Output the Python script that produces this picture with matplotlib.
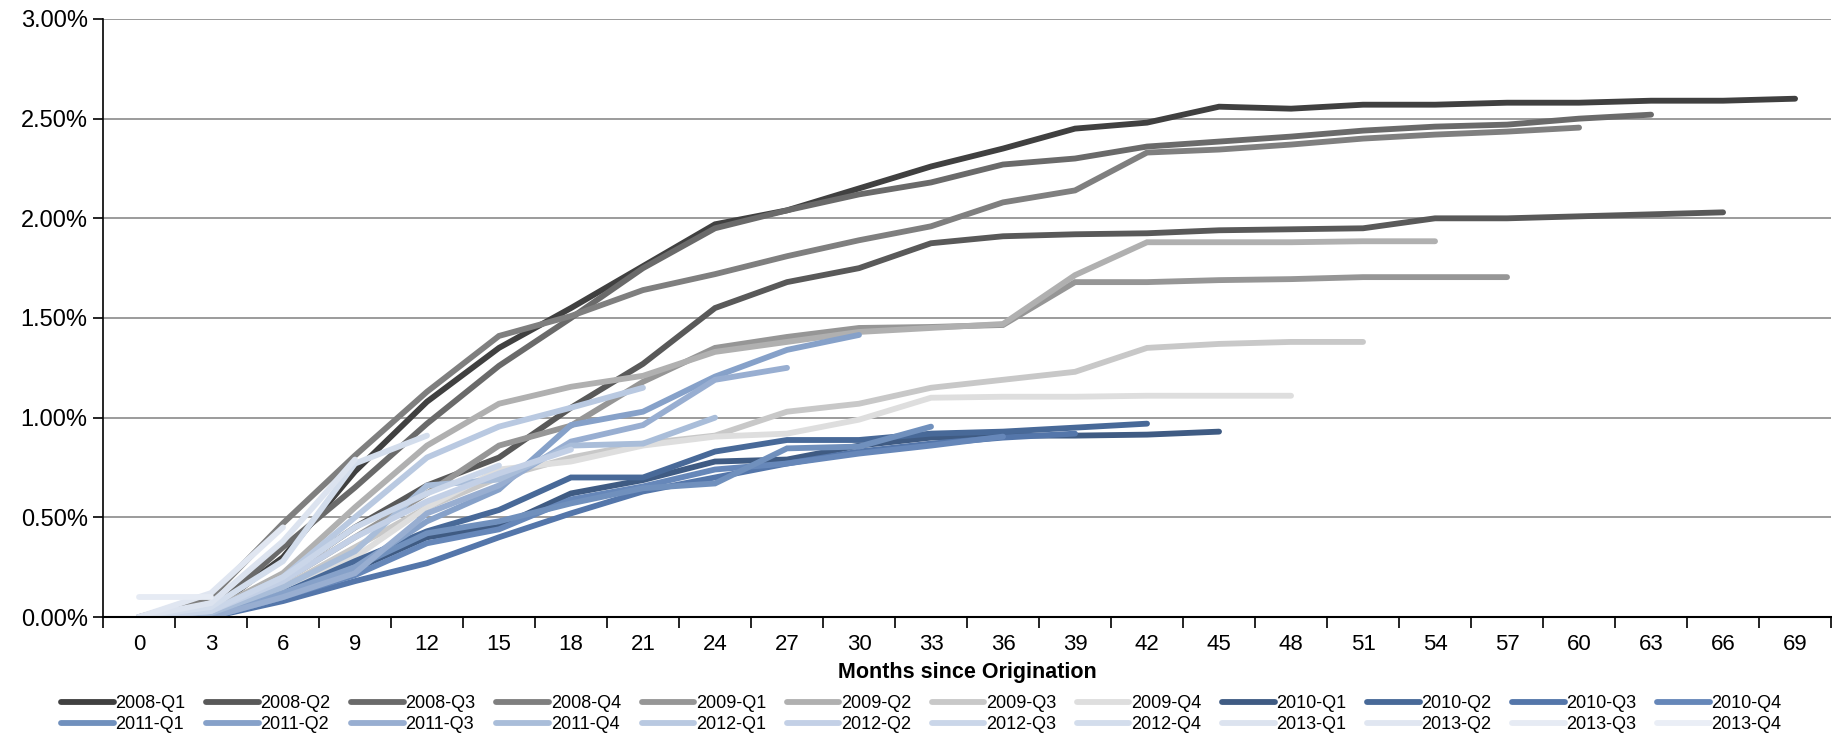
import matplotlib
matplotlib.use("Agg")
import matplotlib.pyplot as plt
import numpy as np

plt.rcParams['font.family'] = ['Liberation Sans', 'DejaVu Sans']

# mesi dall'origine (un punto ogni 3 mesi)
mesi = list(range(0, 70, 3))

coorti = ["2008-Q1", "2008-Q2", "2008-Q3", "2008-Q4",
          "2009-Q1", "2009-Q2", "2009-Q3", "2009-Q4",
          "2010-Q1", "2010-Q2", "2010-Q3", "2010-Q4",
          "2011-Q1", "2011-Q2", "2011-Q3", "2011-Q4",
          "2012-Q1", "2012-Q2", "2012-Q3", "2012-Q4",
          "2013-Q1", "2013-Q2", "2013-Q3", "2013-Q4"]

colori = ["#404040", "#595959", "#6a6a6a", "#7f7f7f",
          "#969696", "#b0b0b0", "#c8c8c8", "#dedede",
          "#3f5b83", "#486998", "#5476aa", "#6687b9",
          "#7090bd", "#86a1c9", "#98aed1", "#a9bdd9",
          "#b9c9e1", "#c3d0e6", "#cad6e9", "#d3ddec",
          "#dce3ef", "#e0e6f1", "#e6ebf4", "#eaeef6"]

# tassi cumulati (%) per coorte
q2008_1 = [0, 0.03, 0.30, 0.73, 1.08, 1.35, 1.55, 1.76, 1.97, 2.04, 2.15, 2.26,
           2.35, 2.45, 2.48, 2.56, 2.55, 2.57, 2.57, 2.58, 2.58, 2.59, 2.59, 2.60]
q2008_2 = [0, 0.02, 0.20, 0.45, 0.66, 0.80, 1.05, 1.27, 1.55, 1.68, 1.75, 1.875,
           1.91, 1.92, 1.925, 1.94, 1.945, 1.95, 2.00, 2.00, 2.01, 2.02, 2.03]
q2008_3 = [0, 0.03, 0.35, 0.65, 0.97, 1.26, 1.50, 1.75, 1.95, 2.04, 2.12, 2.18,
           2.27, 2.30, 2.36, 2.385, 2.41, 2.44, 2.46, 2.47, 2.50, 2.52]
q2008_4 = [0, 0.10, 0.47, 0.81, 1.13, 1.41, 1.51, 1.64, 1.72, 1.81, 1.89, 1.96,
           2.08, 2.14, 2.33, 2.345, 2.37, 2.40, 2.42, 2.435, 2.455]
q2009_1 = [0, 0.02, 0.18, 0.40, 0.62, 0.86, 0.96, 1.18, 1.35, 1.405, 1.45, 1.455,
           1.465, 1.68, 1.68, 1.69, 1.695, 1.705, 1.705, 1.705]
q2009_2 = [0, 0.03, 0.22, 0.55, 0.86, 1.07, 1.155, 1.21, 1.33, 1.38, 1.43, 1.45,
           1.47, 1.715, 1.88, 1.88, 1.88, 1.885, 1.885]
q2009_3 = [0, 0.02, 0.15, 0.35, 0.55, 0.70, 0.80, 0.87, 0.91, 1.03, 1.07, 1.15,
           1.19, 1.23, 1.35, 1.37, 1.38, 1.38]
q2009_4 = [0, 0.02, 0.12, 0.30, 0.55, 0.74, 0.78, 0.86, 0.905, 0.92, 0.99, 1.10,
           1.105, 1.105, 1.11, 1.11, 1.11]
q2010_1 = [0, 0, 0.10, 0.24, 0.40, 0.453, 0.62, 0.687, 0.78, 0.79, 0.86, 0.90,
           0.91, 0.91, 0.915, 0.93]
q2010_2 = [0, 0, 0.12, 0.28, 0.43, 0.537, 0.70, 0.70, 0.83, 0.888, 0.888, 0.92,
           0.93, 0.95, 0.97]
q2010_3 = [0, 0, 0.08, 0.18, 0.27, 0.40, 0.52, 0.63, 0.70, 0.77, 0.83, 0.87,
           0.90, 0.92]
q2010_4 = [0, 0, 0.10, 0.21, 0.37, 0.44, 0.59, 0.655, 0.74, 0.77, 0.82, 0.86, 0.905]
q2011_1 = [0, 0, 0.10, 0.25, 0.42, 0.48, 0.57, 0.646, 0.67, 0.846, 0.855, 0.955]
q2011_2 = [0, 0, 0.12, 0.25, 0.48, 0.64, 0.963, 1.03, 1.206, 1.34, 1.415]
q2011_3 = [0, 0, 0.10, 0.22, 0.52, 0.66, 0.88, 0.963, 1.19, 1.25]
q2011_4 = [0, 0.02, 0.15, 0.33, 0.66, 0.69, 0.86, 0.87, 1.00]
q2012_1 = [0, 0.03, 0.20, 0.50, 0.80, 0.955, 1.05, 1.15]
q2012_2 = [0, 0.03, 0.18, 0.40, 0.58, 0.72, 0.84]
q2012_3 = [0, 0.03, 0.20, 0.45, 0.62, 0.76]
q2012_4 = [0, 0.05, 0.28, 0.77, 0.91]
q2013_1 = [0, 0.07, 0.38, 0.79]
q2013_2 = [0, 0.12, 0.45]
q2013_3 = [0.10, 0.10]
q2013_4 = [0.0]

serie = [q2008_1, q2008_2, q2008_3, q2008_4, q2009_1, q2009_2, q2009_3, q2009_4,
         q2010_1, q2010_2, q2010_3, q2010_4, q2011_1, q2011_2, q2011_3, q2011_4,
         q2012_1, q2012_2, q2012_3, q2012_4, q2013_1, q2013_2, q2013_3, q2013_4]

fig = plt.figure(figsize=(18.32, 7.47), dpi=100)
ax = fig.add_axes([0.0562, 0.174, 0.9433, 0.8006])

handles = []
for nome, col, vals in zip(coorti, colori, serie):
    h, = ax.plot(mesi[:len(vals)], np.array(vals) / 100, color=col, lw=4.2,
                 solid_capstyle="round", solid_joinstyle="miter", label=nome)
    handles.append(h)

ax.set_ylim(0, 0.03)
ax.set_xlim(-1.5, 70.5)
ax.set_yticks(np.arange(0, 0.0301, 0.005))
ax.set_yticklabels([f"{v*100:.2f}%" for v in np.arange(0, 0.0301, 0.005)])
ax.yaxis.grid(True, color="#8a8a8a", lw=1.2)
ax.set_axisbelow(True)

# tick ai bordi delle categorie, etichette al centro
ax.set_xticks(np.arange(-1.5, 71, 3))
ax.set_xticklabels([])
ax.set_xticks(mesi, minor=True)
ax.set_xticklabels([str(m) for m in mesi], minor=True)
ax.tick_params(axis="x", which="major", length=8, width=1.2, color="black")
ax.tick_params(axis="x", which="minor", length=0, labelsize=16, pad=12)
ax.tick_params(axis="y", length=7, width=1.2, labelsize=17, pad=4)

for s in ["top", "right"]:
    ax.spines[s].set_visible(False)
ax.spines["left"].set_linewidth(1.2)
ax.spines["bottom"].set_linewidth(1.5)

ax.set_xlabel("Months since Origination", fontsize=15.5, weight="bold", labelpad=5)

# legenda: riga 1 = 2008-Q1..2010-Q4, riga 2 = 2011-Q1..2013-Q4
ordine = []
for k in range(12):
    ordine += [k, k + 12]
fig.legend([handles[k] for k in ordine], [coorti[k] for k in ordine],
           ncol=12, loc="lower center", bbox_to_anchor=(0.503, -0.003),
           frameon=False, handlelength=2.9, handletextpad=0.1,
           columnspacing=1.15, labelspacing=0.2,
           prop={"size": 13})

fig.savefig("out.png", dpi=100)
